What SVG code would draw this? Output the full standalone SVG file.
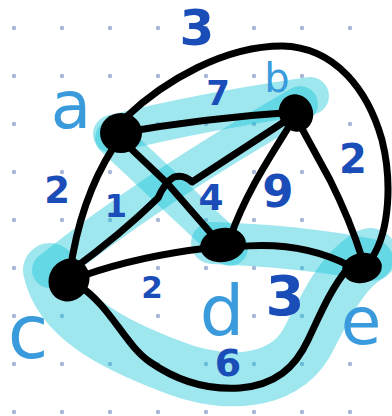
<svg xmlns="http://www.w3.org/2000/svg" width="392" height="416" viewBox="0 0 392 416">
  <defs>
    <pattern id="dots" x="0" y="0" width="48" height="48" patternUnits="userSpaceOnUse">
      <circle cx="14" cy="28" r="2.2" fill="#a9b7d6"/>
    </pattern>
    <style>
      .hl { fill: none; stroke: #0fc3d7; stroke-opacity: 0.4; stroke-linecap: round; stroke-linejoin: round; }
      .edge { fill: none; stroke: #000; stroke-width: 7; stroke-linecap: round; stroke-linejoin: round; }
      .node { fill: #000; }
      .nlabel { font-family: "DejaVu Sans", "Noto Sans", sans-serif; fill: #3a9bdc; text-anchor: middle; }
      .wlabel { font-family: "DejaVu Sans", "Noto Sans", sans-serif; font-weight: bold; fill: #1b4db9; text-anchor: middle; }
    </style>
  </defs>
  <rect width="392" height="416" fill="#ffffff"/>
  <rect width="392" height="416" fill="url(#dots)"/>

  <g id="highlights">
    <path class="hl" stroke-width="38" d="M112,134 Q 200,112 310,96"/>
    <path class="hl" stroke-width="36" d="M50,270 Q 150,190 300,104"/>
    <path class="hl" stroke-width="36" d="M113,138 L 230,248"/>
    <path class="hl" stroke-width="42" d="M212,243 Q 300,246 372,260"/>
    <path class="hl" stroke-width="54" d="M50,270 C 60,318 115,345 170,366 C 225,388 282,384 306,344 C 326,306 342,270 370,255"/>
  </g>

  <g id="connectors">
    <path class="edge" stroke-width="8" d="M125,118 C 165,80 225,46 282,46 C 335,47 368,90 382,140 C 392,180 390,230 372,258"/>
    <path class="edge" d="M120,133 Q 205,118 296,112"/>
    <path class="edge" d="M113,148 Q 80,200 70,272"/>
    <path class="edge" d="M125,143 L 167,183 L 222,246"/>
    <path class="edge" d="M290,118 L 192,182 Q 184,174 174,177 Q 165,182 158,198 Q 120,235 72,270"/>
    <path class="edge" d="M288,128 C 268,160 245,195 230,238"/>
    <path class="edge" d="M300,125 L 330,180 Q 350,220 362,258"/>
    <path class="edge" d="M85,275 Q 140,256 208,248"/>
    <path class="edge" d="M235,247 Q 300,240 350,266"/>
    <path class="edge" stroke-width="8" d="M78,285 C 110,305 125,345 150,362 C 180,383 210,390 240,388 C 275,385 295,368 308,340 C 320,315 330,290 348,268"/>
    <g id="weights">
      <text class="wlabel" x="197" y="45" font-size="50">3</text>
      <text class="wlabel" x="218" y="105" font-size="34">7</text>
      <text class="wlabel" x="353" y="173" font-size="40">2</text>
      <text class="wlabel" x="278" y="207" font-size="45">9</text>
      <text class="wlabel" x="211" y="210" font-size="36">4</text>
      <text class="wlabel" x="116" y="217" font-size="32">1</text>
      <text class="wlabel" x="57" y="203" font-size="37">2</text>
      <text class="wlabel" x="152" y="298" font-size="31">2</text>
      <text class="wlabel" x="285" y="315" font-size="56">3</text>
      <text class="wlabel" x="228" y="376" font-size="38">6</text>
    </g>
  </g>

  <g id="node-a">
    <ellipse class="node" cx="121" cy="133" rx="21" ry="20"/>
    <text class="nlabel" x="71" y="128" font-size="66">a</text>
  </g>
  <g id="node-b">
    <ellipse class="node" cx="296" cy="113" rx="17" ry="19" transform="rotate(-20 296 113)"/>
    <text class="nlabel" x="277" y="92" font-size="40">b</text>
  </g>
  <g id="node-c">
    <ellipse class="node" cx="69" cy="280" rx="20" ry="22" transform="rotate(30 69 280)"/>
    <text class="nlabel" x="28" y="358" font-size="74">c</text>
  </g>
  <g id="node-d">
    <ellipse class="node" cx="223" cy="245" rx="23" ry="17" transform="rotate(-10 223 245)"/>
    <text class="nlabel" x="222" y="335" font-size="70">d</text>
  </g>
  <g id="node-e">
    <ellipse class="node" cx="362" cy="268" rx="20" ry="15" transform="rotate(-10 362 268)"/>
    <text class="nlabel" x="361" y="344" font-size="66">e</text>
  </g>
</svg>
